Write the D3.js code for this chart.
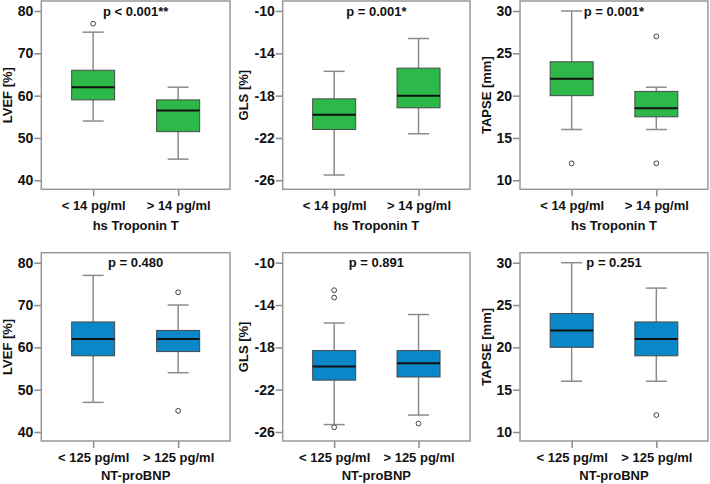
<!DOCTYPE html>
<html>
<head>
<meta charset="utf-8">
<script src="https://cdn.jsdelivr.net/npm/d3@7"></script>
<style>
  html, body { margin: 0; padding: 0; background: #fff; }
  svg { display: block; font-family: "Liberation Sans", Arial, sans-serif; }
</style>
</head>
<body>
<svg id="chart" width="710" height="484"></svg>
<script>
// ---------- data ----------
const groupsTrop = ["< 14 pg/ml", "> 14 pg/ml"];
const groupsBNP = ["< 125 pg/ml", "> 125 pg/ml"];

const lvefTicks = [40, 50, 60, 70, 80];
const glsTicks = [-26, -22, -18, -14, -10];
const tapseTicks = [10, 15, 20, 25, 30];

// box stats: [lower whisker, Q1, median, Q3, upper whisker]
const lvefTropStats = [[54, 59, 62, 66, 75], [45, 51.5, 56.5, 59, 62]];
const lvefTropOut = [[77], []];
const glsTropStats = [[-25.5, -21.2, -19.8, -18.3, -15.7], [-21.6, -19.15, -18.0, -15.4, -12.6]];
const glsTropOut = [[], []];
const tapseTropStats = [[16, 20, 22, 24, 30], [16, 17.5, 18.5, 20.5, 21]];
const tapseTropOut = [[12], [12, 27]];

const lvefBNPStats = [[47, 58, 62, 66, 77], [54, 59, 62, 64, 70]];
const lvefBNPOut = [[], [73, 45]];
const glsBNPStats = [[-25.3, -21.1, -19.8, -18.3, -15.7], [-24.4, -20.8, -19.5, -18.3, -14.9]];
const glsBNPOut = [[-12.6, -13.3, -25.55], [-25.2]];
const tapseBNPStats = [[16, 20, 22, 24, 30], [16, 19, 21, 23, 27]];
const tapseBNPOut = [[], [12]];

const pValues = ["p < 0.001**", "p = 0.001*", "p = 0.001*", "p = 0.480", "p = 0.891", "p = 0.251"];
const yLabels = ["LVEF [%]", "GLS [%]", "TAPSE [mm]"];
const xTitles = ["hs Troponin T", "NT-proBNP"];

// ---------- layout ----------
const GREEN = "#2db84a", BLUE = "#0a87c9";
const cols = [
  { left: 41.3, right: 230, yLabelX: 7.5 },
  { left: 282.7, right: 470, yLabelX: 243 },
  { left: 520, right: 708, yLabelX: 486 }
];
const rows = [
  { frameTop: 1, frameBottom: 189.3, tickTop: 11, tickBottom: 180.3, pY: 15.5, labY: 20.5, titleY: 229.5 },
  { frameTop: 252.7, frameBottom: 441, tickTop: 262.7, tickBottom: 432, pY: 267, labY: 20.5, titleY: 479.5 }
];

const panels = [
  { r: 0, c: 0, ticks: lvefTicks, cats: groupsTrop, stats: lvefTropStats, out: lvefTropOut, color: GREEN },
  { r: 0, c: 1, ticks: glsTicks, cats: groupsTrop, stats: glsTropStats, out: glsTropOut, color: GREEN },
  { r: 0, c: 2, ticks: tapseTicks, cats: groupsTrop, stats: tapseTropStats, out: tapseTropOut, color: GREEN },
  { r: 1, c: 0, ticks: lvefTicks, cats: groupsBNP, stats: lvefBNPStats, out: lvefBNPOut, color: BLUE },
  { r: 1, c: 1, ticks: glsTicks, cats: groupsBNP, stats: glsBNPStats, out: glsBNPOut, color: BLUE },
  { r: 1, c: 2, ticks: tapseTicks, cats: groupsBNP, stats: tapseBNPStats, out: tapseBNPOut, color: BLUE }
];

const svg = d3.select("#chart");
const TEXT = "#111";
const GRAYLINE = "#8c8c8c";
const BOXW = 43, CAPW = 21;
const FONT = "Liberation Sans, Arial, sans-serif";

panels.forEach((p, i) => {
  const col = cols[p.c], row = rows[p.r];
  const g = svg.append("g");
  const y = d3.scaleLinear()
    .domain([d3.min(p.ticks), d3.max(p.ticks)])
    .range([row.tickBottom, row.tickTop]);
  const x = d3.scalePoint().domain(p.cats).range([col.left, col.right]).padding(0.61);

  // frame
  g.append("rect")
    .attr("x", col.left).attr("y", row.frameTop)
    .attr("width", col.right - col.left).attr("height", row.frameBottom - row.frameTop)
    .attr("fill", "none").attr("stroke", "#999").attr("stroke-width", 1.5);

  // y axis
  const ya = g.append("g").attr("transform", `translate(${col.left},0)`)
    .call(d3.axisLeft(y).tickValues(p.ticks).tickSize(7).tickPadding(1)
      .tickFormat(d => String(d)));
  ya.select(".domain").remove();
  ya.selectAll(".tick line").attr("stroke", GRAYLINE).attr("stroke-width", 1.5);
  ya.selectAll(".tick text").attr("fill", TEXT).attr("font-size", 14).attr("font-weight", "bold")
    .attr("font-family", FONT);

  // x axis
  const xa = g.append("g").attr("transform", `translate(0,${row.frameBottom})`)
    .call(d3.axisBottom(x).tickSize(7));
  xa.select(".domain").remove();
  xa.selectAll(".tick line").attr("stroke", GRAYLINE).attr("stroke-width", 1.5);
  xa.selectAll(".tick text").attr("fill", TEXT).attr("font-size", 13).attr("font-weight", "bold")
    .attr("font-family", FONT)
    .attr("y", row.labY).attr("dy", 0);

  // boxes
  p.cats.forEach((cat, k) => {
    const [lo, q1, med, q3, hi] = p.stats[k];
    const cx = x(cat);
    g.append("line").attr("x1", cx).attr("x2", cx).attr("y1", y(hi)).attr("y2", y(q3))
      .attr("stroke", GRAYLINE).attr("stroke-width", 1.5);
    g.append("line").attr("x1", cx).attr("x2", cx).attr("y1", y(q1)).attr("y2", y(lo))
      .attr("stroke", GRAYLINE).attr("stroke-width", 1.5);
    [lo, hi].forEach(v => {
      g.append("line").attr("x1", cx - CAPW / 2).attr("x2", cx + CAPW / 2)
        .attr("y1", y(v)).attr("y2", y(v)).attr("stroke", GRAYLINE).attr("stroke-width", 1.5);
    });
    g.append("rect").attr("x", cx - BOXW / 2).attr("y", y(q3))
      .attr("width", BOXW).attr("height", y(q1) - y(q3))
      .attr("fill", p.color).attr("stroke", "#4a4a4a").attr("stroke-width", 1);
    g.append("line").attr("x1", cx - BOXW / 2).attr("x2", cx + BOXW / 2)
      .attr("y1", y(med)).attr("y2", y(med)).attr("stroke", "#111").attr("stroke-width", 2);
    p.out[k].forEach(v => {
      g.append("circle").attr("cx", cx).attr("cy", y(v)).attr("r", 2.4)
        .attr("fill", "#fff").attr("stroke", "#444").attr("stroke-width", 1);
    });
  });

  // p-value
  g.append("text").attr("x", (col.left + col.right) / 2).attr("y", row.pY)
    .attr("text-anchor", "middle").attr("font-size", 13).attr("font-weight", "bold")
    .attr("fill", TEXT).text(pValues[i]);

  // y label
  const cy = (row.frameTop + row.frameBottom) / 2;
  g.append("text").attr("transform", `translate(${col.yLabelX},${cy}) rotate(-90)`)
    .attr("text-anchor", "middle").attr("dominant-baseline", "central")
    .attr("font-size", 13).attr("font-weight", "bold").attr("fill", TEXT)
    .text(yLabels[p.c]);

  // x title
  g.append("text").attr("x", (col.left + col.right) / 2).attr("y", row.titleY)
    .attr("text-anchor", "middle").attr("font-size", 13).attr("font-weight", "bold")
    .attr("fill", TEXT).text(xTitles[p.r]);
});
</script>
</body>
</html>
